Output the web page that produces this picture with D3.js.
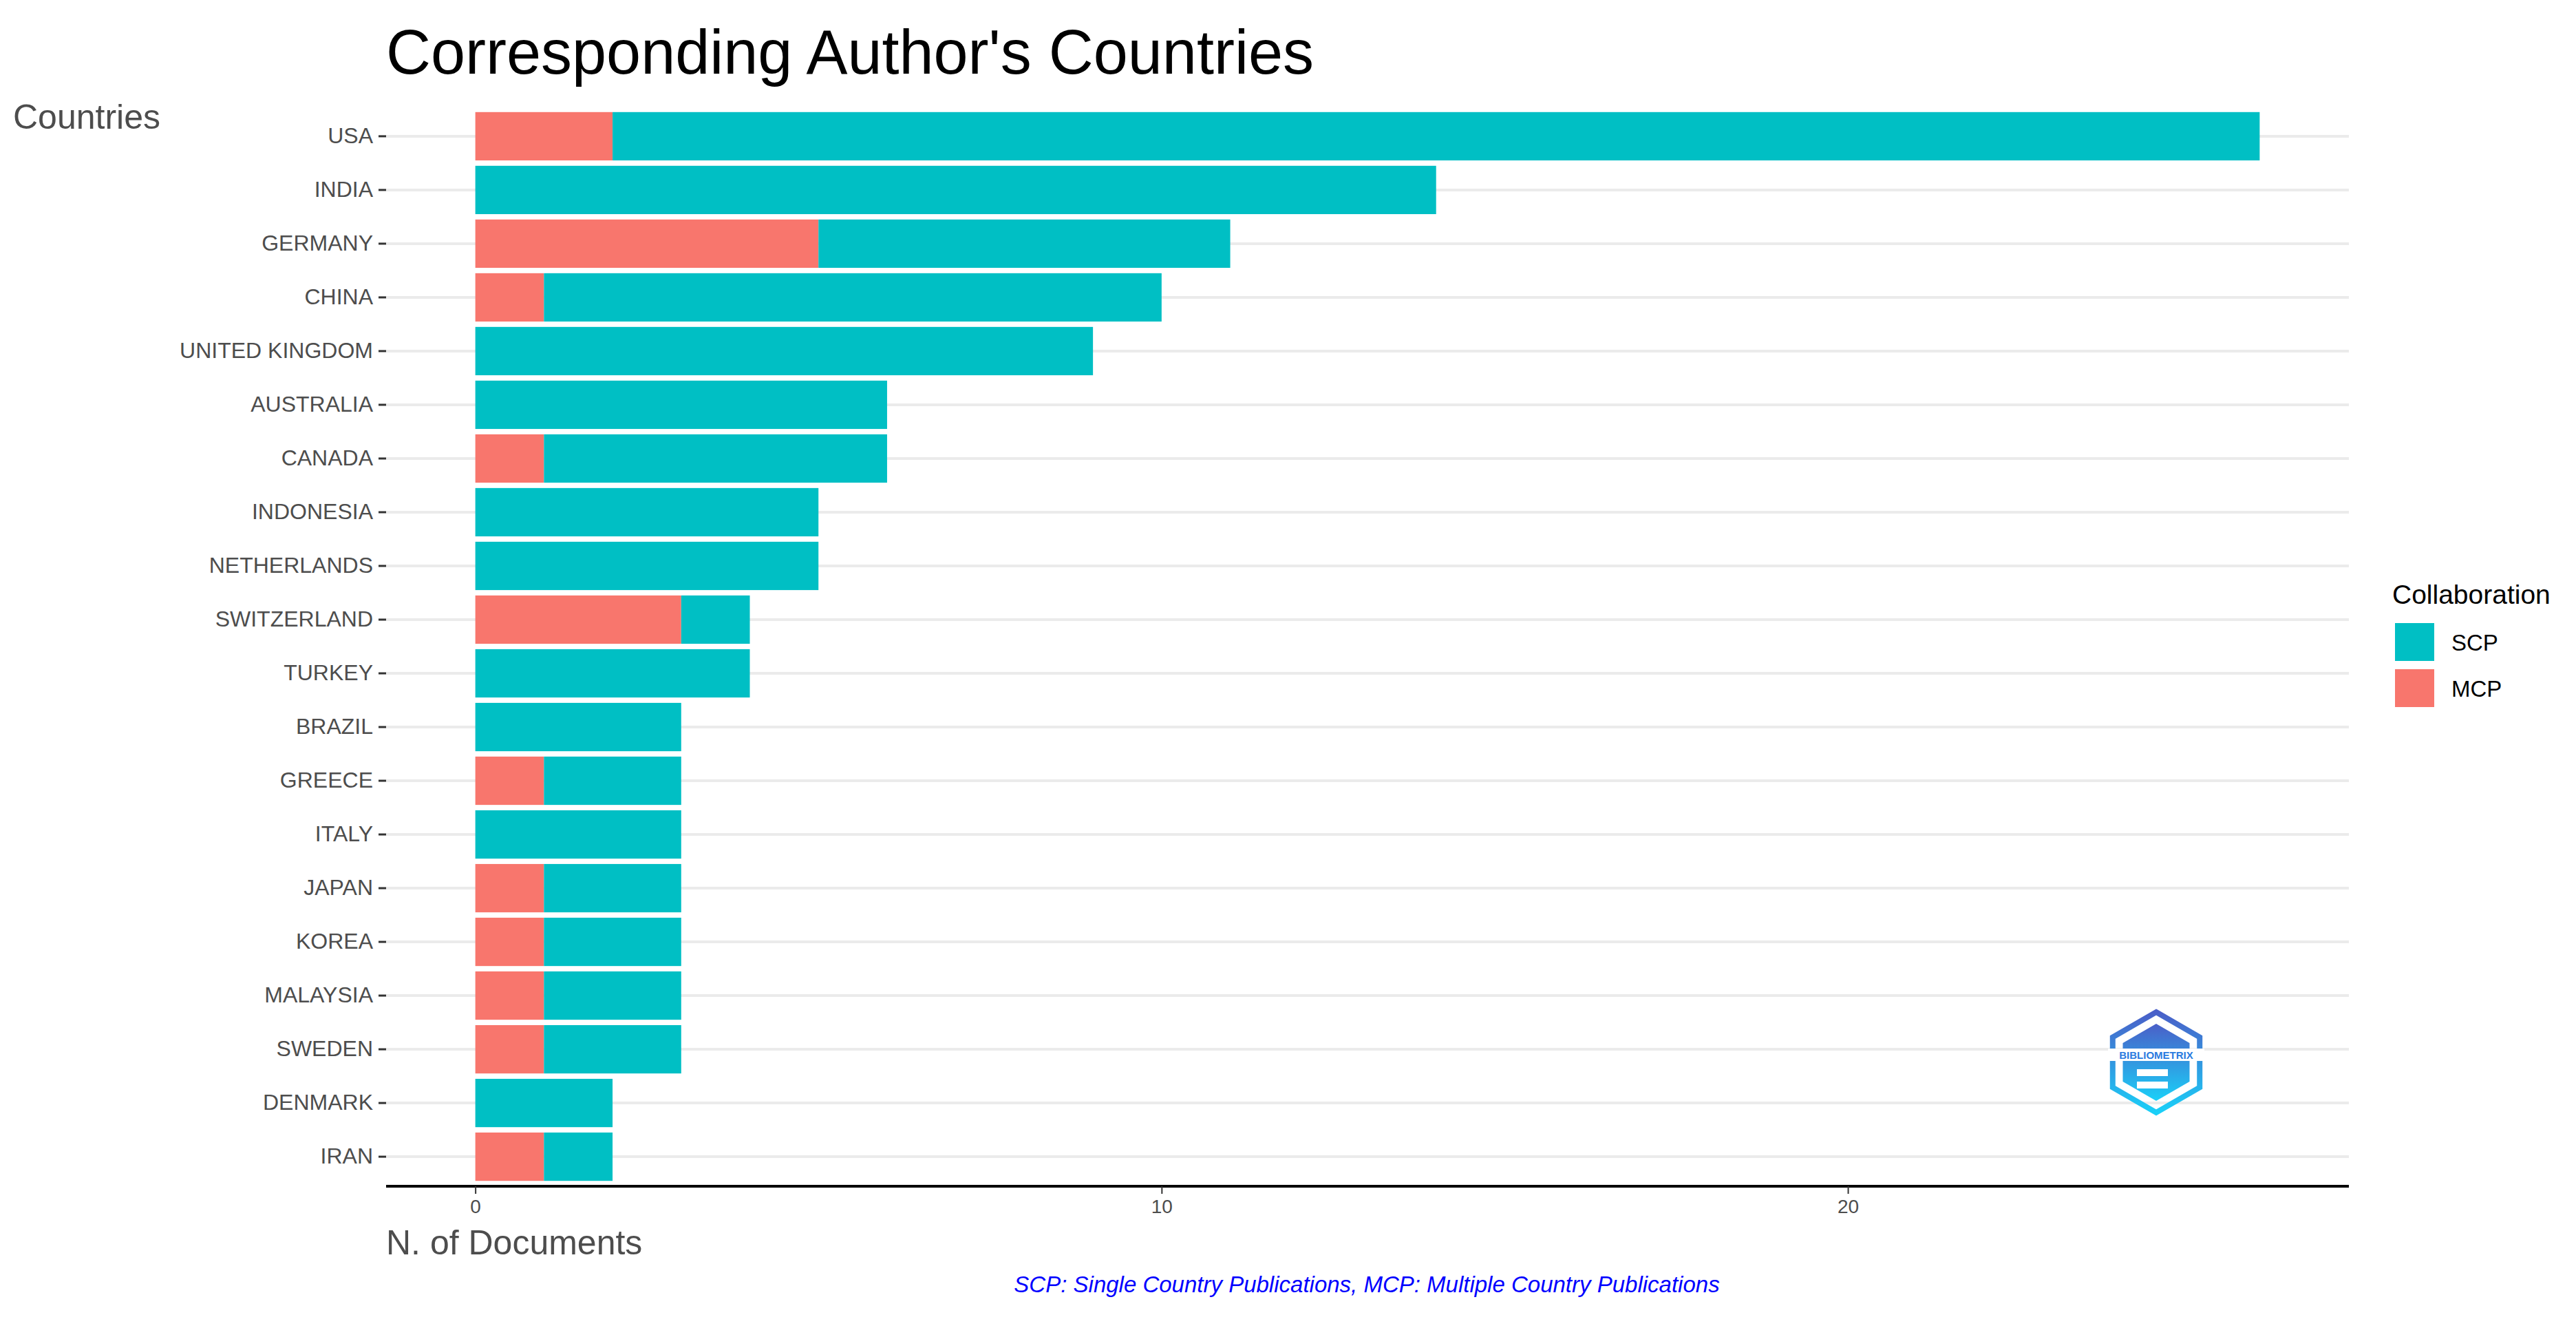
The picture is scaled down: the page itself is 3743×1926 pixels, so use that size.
<!DOCTYPE html>
<html><head><meta charset="utf-8">
<script src="https://cdn.jsdelivr.net/npm/d3@7"></script>
<style>body{margin:0;background:#fff}text{font-family:"Liberation Sans",Arial,sans-serif}</style>
</head><body>
<svg id="c" width="3743" height="1926"></svg>
<script>
const countries=["USA","INDIA","GERMANY","CHINA","UNITED KINGDOM","AUSTRALIA","CANADA","INDONESIA","NETHERLANDS","SWITZERLAND","TURKEY","BRAZIL","GREECE","ITALY","JAPAN","KOREA","MALAYSIA","SWEDEN","DENMARK","IRAN"];
const mcp=[2,0,5,1,0,0,1,0,0,3,0,0,1,0,1,1,1,1,0,1];
const scp=[24,14,6,9,9,6,5,5,5,1,4,3,2,3,2,2,2,2,2,1];
const xTicks=[0,10,20];
const seriesNames=["SCP","MCP"];
const colors={SCP:"#00BFC4",MCP:"#F8766D"};

const svg=d3.select("#c");
const L=561,R=3413,T=155,B=1723;
const x=d3.scaleLinear().domain([-1.3,27.3]).range([L,R]);
const y=d3.scaleBand().domain(countries).range([T,B]).padding(0.1);

svg.append("g").selectAll("line").data(countries).join("line")
 .attr("x1",L).attr("x2",R).attr("y1",d=>y(d)+y.bandwidth()/2).attr("y2",d=>y(d)+y.bandwidth()/2).attr("stroke","#ebebeb").attr("stroke-width",4);

const g=svg.append("g");
g.selectAll(".m").data(countries).join("rect")
 .attr("x",x(0)).attr("width",(d,i)=>x(mcp[i])-x(0)).attr("y",d=>y(d)).attr("height",y.bandwidth()).attr("fill",colors.MCP);
g.selectAll(".s").data(countries).join("rect")
 .attr("x",(d,i)=>x(mcp[i])).attr("width",(d,i)=>x(mcp[i]+scp[i])-x(mcp[i])).attr("y",d=>y(d)).attr("height",y.bandwidth()).attr("fill",colors.SCP);

const xa=svg.append("g").attr("transform",`translate(0,${B})`).call(d3.axisBottom(x).tickValues(xTicks).tickSize(11).tickPadding(8));
xa.select(".domain").attr("stroke","#000").attr("stroke-width",4).attr("d",`M${L},0H${R}`);
xa.selectAll(".tick line").attr("stroke","#333").attr("stroke-width",2);
xa.selectAll("text").attr("font-size",28).attr("fill","#4d4d4d");
const ya=svg.append("g").attr("transform",`translate(${L},0)`).call(d3.axisLeft(y).tickSize(11).tickPadding(8));
ya.select(".domain").remove();
ya.selectAll(".tick line").attr("stroke","#333").attr("stroke-width",3);
ya.selectAll("text").attr("font-size",32).attr("fill","#4d4d4d");

svg.append("text").attr("x",561).attr("y",107).attr("font-size",90).attr("fill","#000").text("Corresponding Author's Countries");
svg.append("text").attr("x",19).attr("y",187).attr("font-size",50).attr("fill","#4d4d4d").text("Countries");
svg.append("text").attr("x",561).attr("y",1822).attr("font-size",50).attr("fill","#4d4d4d").text("N. of Documents");
svg.append("text").attr("x",1986).attr("y",1877).attr("text-anchor","middle").attr("font-size",33).attr("font-style","italic").attr("fill","#0000FF").text("SCP: Single Country Publications, MCP: Multiple Country Publications");

svg.append("text").attr("x",3476).attr("y",877).attr("font-size",39).attr("fill","#000").text("Collaboration");
const lg=svg.append("g").selectAll("g").data(seriesNames).join("g").attr("transform",(d,i)=>`translate(3480,${905+i*67})`);
lg.append("rect").attr("width",57).attr("height",55).attr("fill",d=>colors[d]);
lg.append("text").attr("x",82).attr("y",40).attr("font-size",33).attr("fill","#000").text(d=>d);

const defs=svg.append("defs");
const gr=defs.append("linearGradient").attr("id","lgr").attr("x1",0).attr("y1",0).attr("x2",0).attr("y2",1);
gr.append("stop").attr("offset","0").attr("stop-color","#4a5fc8");
gr.append("stop").attr("offset","1").attr("stop-color","#1ad0f8");
const cx=3133,cy=1543,r=73;
const hex=d3.range(6).map(i=>{const a=Math.PI/3*i-Math.PI/2;return [cx+r*Math.cos(a),cy+r*Math.sin(a)];});
svg.append("polygon").attr("points",hex.join(" ")).attr("fill","none").attr("stroke","url(#lgr)").attr("stroke-width",8);
const r2=56;
const hex2=d3.range(6).map(i=>{const a=Math.PI/3*i-Math.PI/2;return [cx+r2*Math.cos(a),cy+r2*Math.sin(a)];});
svg.append("polygon").attr("points",hex2.join(" ")).attr("fill","url(#lgr)");
svg.append("rect").attr("x",cx-70).attr("y",cy-20).attr("width",140).attr("height",18).attr("fill","#fff");
svg.append("text").attr("x",cx).attr("y",cy-5).attr("text-anchor","middle").attr("font-size",15).attr("font-weight","bold").attr("fill","#2a7be0").text("BIBLIOMETRIX");
svg.append("path").attr("d",`M${cx-28},${cy+10}h45v10h-45zM${cx-28},${cy+28}h45v10h-45z`).attr("fill","#fff");
</script></body></html>
